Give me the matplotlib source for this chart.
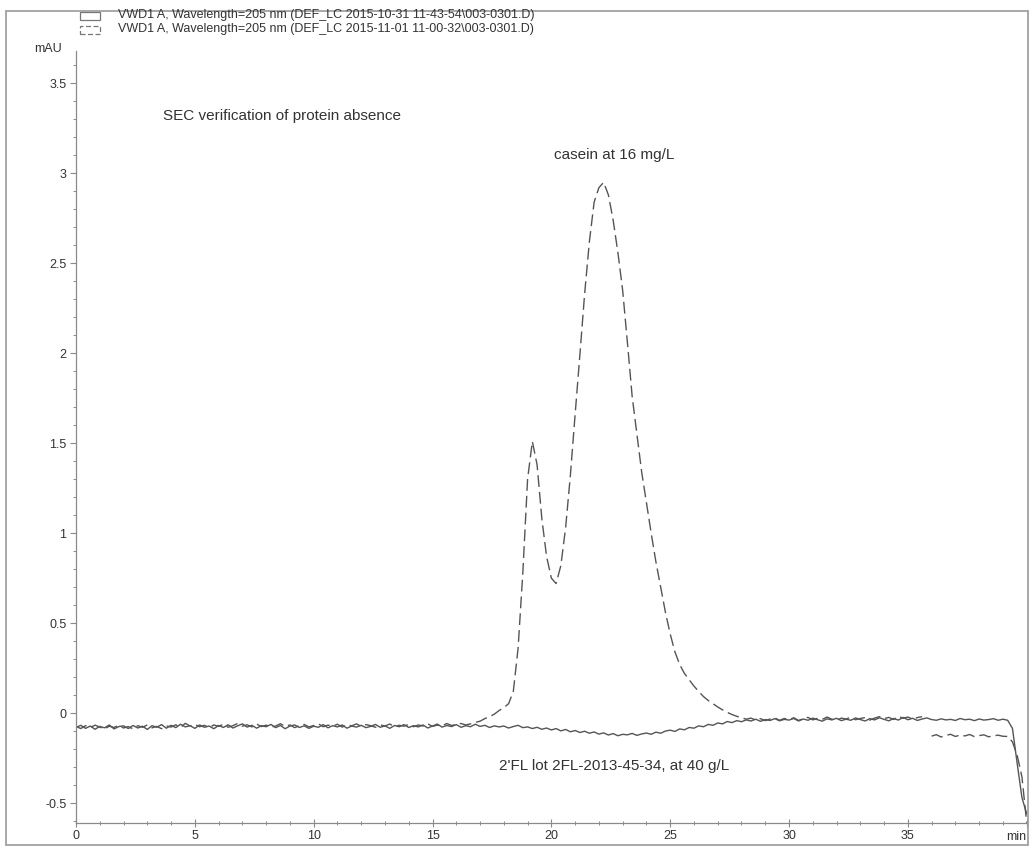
import numpy as np
import matplotlib
matplotlib.use('Agg')
import matplotlib.pyplot as plt
from matplotlib.patches import Rectangle

plt.rcParams['font.family'] = ['Liberation Sans', 'DejaVu Sans']

# sampling step of both traces (min)
passo = 0.2

# 2'FL lot 2FL-2013-45-34, 40 g/L  (solid line), mAU every 0.2 min from 0 to 40
fl_2 = [
    -0.080, -0.068, -0.085, -0.072, -0.090, -0.074, -0.082, -0.066, -0.088, -0.075,
    -0.071, -0.086, -0.069, -0.083, -0.073, -0.091, -0.070, -0.079, -0.064, -0.084,
    -0.068, -0.081, -0.062, -0.077, -0.070, -0.085, -0.066, -0.079, -0.072, -0.087,
    -0.069, -0.080, -0.065, -0.083, -0.071, -0.060, -0.078, -0.068, -0.084, -0.070,
    -0.076, -0.063, -0.081, -0.069, -0.087, -0.072, -0.066, -0.080, -0.071, -0.085,
    -0.073, -0.079, -0.064, -0.082, -0.070, -0.077, -0.066, -0.084, -0.072, -0.078,
    -0.068, -0.081, -0.074, -0.063, -0.079, -0.071, -0.085, -0.069, -0.076, -0.064,
    -0.080, -0.070, -0.077, -0.066, -0.083, -0.072, -0.061, -0.078, -0.069, -0.075,
    -0.064, -0.079, -0.070, -0.076, -0.062, -0.074, -0.068, -0.080, -0.071, -0.077,
    -0.072, -0.083, -0.075, -0.068, -0.081, -0.077, -0.086, -0.079, -0.090, -0.083,
    -0.094, -0.086, -0.099, -0.091, -0.104, -0.097, -0.108, -0.101, -0.112, -0.105,
    -0.117, -0.110, -0.122, -0.114, -0.126, -0.118, -0.121, -0.113, -0.124, -0.116,
    -0.111, -0.118, -0.106, -0.112, -0.100, -0.095, -0.102, -0.088, -0.093, -0.080,
    -0.084, -0.071, -0.076, -0.063, -0.068, -0.055, -0.060, -0.047, -0.053, -0.042,
    -0.048, -0.038, -0.044, -0.034, -0.046, -0.036, -0.041, -0.031, -0.043, -0.035,
    -0.039, -0.030, -0.044, -0.033, -0.040, -0.028, -0.037, -0.045, -0.032, -0.038,
    -0.029, -0.042, -0.034, -0.040, -0.027, -0.036, -0.044, -0.031, -0.038, -0.026,
    -0.035, -0.043, -0.030, -0.039, -0.024, -0.037, -0.029, -0.041, -0.033, -0.027,
    -0.036, -0.040, -0.032, -0.038, -0.035, -0.041, -0.030, -0.037, -0.034, -0.042,
    -0.033, -0.039, -0.036, -0.031, -0.040, -0.034, -0.040, -0.085, -0.280, -0.470,
    -0.560,
]

# casein 16 mg/L (dashed line), same time grid, nan = gap in the trace
caseina = [
    -0.074, -0.086, -0.070, -0.081, -0.067, -0.078, -0.089, -0.073, -0.080, -0.068,
    -0.083, -0.075, -0.088, -0.070, -0.079, -0.066, -0.082, -0.074, -0.087, -0.071,
    -0.078, -0.065, -0.080, -0.057, -0.072, -0.063, -0.076, -0.068, -0.081, -0.066,
    -0.074, -0.062, -0.079, -0.070, -0.058, -0.073, -0.065, -0.077, -0.061, -0.075,
    -0.067, -0.078, -0.072, -0.059, -0.074, -0.066, -0.081, -0.070, -0.063, -0.077,
    -0.069, -0.060, -0.076, -0.067, -0.073, -0.062, -0.078, -0.065, -0.071, -0.060,
    -0.074, -0.064, -0.070, -0.079, -0.066, -0.072, -0.061, -0.075, -0.068, -0.073,
    -0.063, -0.076, -0.066, -0.072, -0.060, -0.074, -0.067, -0.071, -0.058, -0.069,
    -0.064, -0.058, -0.066, -0.060, -0.052, -0.045, -0.031, -0.020, -0.006, 0.014,
    0.030, 0.052, 0.120, 0.360, 0.780, 1.300, 1.510, 1.380, 1.080, 0.870,
    0.750, 0.720, 0.820, 1.030, 1.320, 1.660, 1.990, 2.330, 2.620, 2.840,
    2.920, 2.950, 2.880, 2.740, 2.560, 2.350, 2.060, 1.760, 1.550, 1.340,
    1.170, 1.000, 0.840, 0.700, 0.560, 0.440, 0.340, 0.270, 0.220, 0.185,
    0.150, 0.120, 0.092, 0.070, 0.052, 0.034, 0.018, 0.004, -0.008, -0.018,
    -0.026, -0.034, -0.028, -0.039, -0.031, -0.042, -0.033, -0.027, -0.040, -0.030,
    -0.036, -0.026, -0.041, -0.031, -0.024, -0.038, -0.029, -0.035, -0.022, -0.034,
    -0.040, -0.028, -0.033, -0.023, -0.037, -0.030, -0.025, -0.039, -0.028, -0.020,
    -0.031, -0.024, -0.036, -0.018, -0.029, -0.022, -0.034, -0.025, -0.020, np.nan,
    -0.128, -0.120, -0.133, -0.124, -0.118, -0.130, -0.122, -0.127, -0.119, -0.131,
    -0.125, -0.121, -0.132, -0.126, -0.123, -0.129, -0.130, -0.160, -0.235, -0.355,
    -0.610,
]

legenda = [
    'VWD1 A, Wavelength=205 nm (DEF_LC 2015-10-31 11-43-54\\003-0301.D)',
    'VWD1 A, Wavelength=205 nm (DEF_LC 2015-11-01 11-00-32\\003-0301.D)',
]
x_ticks = [0, 5, 10, 15, 20, 25, 30, 35]
y_ticks = [-0.5, 0, 0.5, 1, 1.5, 2, 2.5, 3, 3.5]
y_labels = ['-0.5', '0', '0.5', '1', '1.5', '2', '2.5', '3', '3.5']

W, H = 1032, 852
cor = '#555555'
cor_txt = '#333333'


def fx(px):
    return px / W


def fy(py):
    return 1 - py / H


fig = plt.figure(figsize=(W / 100, H / 100), dpi=100)
ax = fig.add_axes([fx(76), fy(823), fx(1026.7) - fx(76), fy(51) - fy(823)])

t_fl = np.arange(len(fl_2)) * passo
t_cas = np.arange(len(caseina)) * passo

ax.plot(t_fl, fl_2, color=cor, lw=1.0)
ax.plot(t_cas, caseina, color=cor, lw=1.0, dashes=(8.5, 3.6))

ax.set_xlim(0, 40)
ax.set_ylim(-0.611, 3.68)

for s in ['top', 'right']:
    ax.spines[s].set_visible(False)
for s in ['left', 'bottom']:
    ax.spines[s].set_color('#8a8a8a')
    ax.spines[s].set_linewidth(0.9)

ax.set_xticks(x_ticks + [40])
ax.set_xticklabels([str(v) for v in x_ticks] + [''])
ax.set_xticks(np.arange(0, 40.1, 1), minor=True)
ax.set_yticks(y_ticks)
ax.set_yticklabels(y_labels)
ax.set_yticks(np.arange(-0.6, 3.65, 0.1), minor=True)

ax.tick_params(axis='x', which='major', direction='inout', length=6, width=0.8,
               color='#8a8a8a', labelsize=9, labelcolor=cor_txt, pad=2)
ax.tick_params(axis='x', which='minor', direction='inout', length=3.5, width=0.7,
               color='#8a8a8a')
ax.tick_params(axis='y', which='major', direction='out', length=4, width=0.8,
               color='#8a8a8a', labelsize=9, labelcolor=cor_txt, pad=3)
ax.tick_params(axis='y', which='minor', direction='out', length=2.2, width=0.7,
               color='#8a8a8a')

ax.text(40, -0.611 - 0.045, 'min', ha='right', va='top', fontsize=9, color=cor_txt)
fig.text(fx(62), fy(49), 'mAU', ha='right', va='center', fontsize=9, color=cor_txt)

# annotations
fig.text(fx(163), fy(116), 'SEC verification of protein absence', ha='left',
         va='center', fontsize=11, color=cor_txt)
fig.text(fx(614), fy(155), 'casein at 16 mg/L', ha='center', va='center',
         fontsize=11, color=cor_txt)
fig.text(fx(614), fy(766), "2'FL lot 2FL-2013-45-34, at 40 g/L", ha='center',
         va='center', fontsize=11, color=cor_txt)

# legend drawn by hand, as in the ChemStation print
fig.patches.append(Rectangle((fx(80), fy(20)), fx(100) - fx(80), fy(12) - fy(20),
                             transform=fig.transFigure, fill=False,
                             edgecolor='#777777', lw=0.9))
fig.patches.append(Rectangle((fx(80), fy(34)), fx(100) - fx(80), fy(26) - fy(34),
                             transform=fig.transFigure, fill=False,
                             edgecolor='#777777', lw=0.9, linestyle=(0, (4, 2))))
fig.text(fx(118), fy(15), legenda[0], ha='left', va='center', fontsize=9, color=cor_txt)
fig.text(fx(118), fy(29), legenda[1], ha='left', va='center', fontsize=9, color=cor_txt)

# outer frame
fig.patches.append(Rectangle((fx(6), fy(845)), fx(1028) - fx(6), fy(11) - fy(845),
                             transform=fig.transFigure, fill=False,
                             edgecolor='#9a9a9a', lw=1.2))

fig.savefig('out.png', dpi=100)
